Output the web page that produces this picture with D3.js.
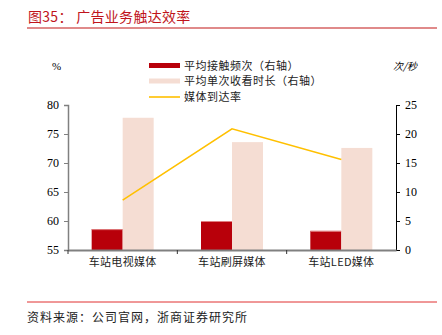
<!DOCTYPE html>
<html><head><meta charset="utf-8">
<script src="https://cdn.jsdelivr.net/npm/d3@7"></script>
<style>
html,body{margin:0;padding:0;background:#fff;}
svg{display:block;}
</style></head>
<body>
<svg id="c" width="442" height="335"></svg>
<script>
const categories = ["车站电视媒体", "车站刷屏媒体", "车站LED媒体"];
const contactFreq = [3.6, 5.0, 3.3];        // 平均接触频次（右轴）
const viewDuration = [22.8, 18.6, 17.6];     // 平均单次收看时长（右轴）
const reachRate = [63.6, 75.9, 70.6];        // 媒体到达率（左轴, %）
const leftTicks = [55, 60, 65, 70, 75, 80];
const rightTicks = [0, 5, 10, 15, 20, 25];
const seriesNames = ["平均接触频次（右轴）", "平均单次收看时长（右轴）", "媒体到达率"];

const svg = d3.select("#c");
const cjk = "'Noto Sans CJK SC', 'Noto Sans', sans-serif";
const serif = "'Liberation Serif', 'DejaVu Serif', serif";

const L = 68, R = 396, T = 105, B = 250;
const x = d3.scaleBand().domain(categories).range([L, R]).padding(0);
const yL = d3.scaleLinear().domain([55, 80]).range([B, T]);
const yR = d3.scaleLinear().domain([0, 25]).range([B, T]);
const bw = 31;

// title
svg.append("text").attr("x", 28).attr("y", 22).attr("fill", "#C0141B")
  .attr("font-family", cjk).attr("font-size", 14).attr("letter-spacing", 0.3).text("图35：  广告业务触达效率");
svg.append("line").attr("x1", 27).attr("x2", 437).attr("y1", 28).attr("y2", 28)
  .attr("stroke", "#E08A8A").attr("stroke-width", 2);

// bars
const g = svg.append("g");
g.selectAll(".b1").data(categories).enter().append("rect")
  .attr("x", d => x(d) + x.bandwidth()/2 - bw)
  .attr("y", (d,i) => yR(contactFreq[i]))
  .attr("width", bw).attr("height", (d,i) => B - yR(contactFreq[i]))
  .attr("fill", "#B8000A");
g.selectAll(".b1t").data(categories).enter().append("rect")
  .attr("x", d => x(d) + x.bandwidth()/2 - bw)
  .attr("y", (d,i) => yR(contactFreq[i]))
  .attr("width", bw).attr("height", 1)
  .attr("fill", "#E07F80");
g.selectAll(".b2").data(categories).enter().append("rect")
  .attr("x", d => x(d) + x.bandwidth()/2)
  .attr("y", (d,i) => yR(viewDuration[i]))
  .attr("width", bw).attr("height", (d,i) => B - yR(viewDuration[i]))
  .attr("fill", "#F5DDD3");

// line
const line = d3.line().x((d,i) => x(categories[i]) + x.bandwidth()/2).y(d => yL(d));
g.append("path").datum(reachRate).attr("d", line)
  .attr("fill", "none").attr("stroke", "#FFC000").attr("stroke-width", 1.6);

// left axis
const axL = svg.append("g").attr("transform", `translate(${L},0)`)
  .call(d3.axisLeft(yL).tickValues(leftTicks).tickSize(4).tickPadding(5));
axL.select(".domain").attr("stroke", "#808080").attr("stroke-width", 1.5);
axL.selectAll(".tick line").attr("stroke", "#808080");
axL.selectAll("text").attr("font-family", serif).attr("font-size", 12).attr("fill", "#000");

// right axis
const axR = svg.append("g").attr("transform", `translate(${R},0)`)
  .call(d3.axisRight(yR).tickValues(rightTicks).tickSize(4).tickPadding(5));
axR.select(".domain").attr("stroke", "#000").attr("stroke-width", 1);
axR.selectAll(".tick line").attr("stroke", "#000");
axR.selectAll("text").attr("font-family", serif).attr("font-size", 12).attr("fill", "#000");

// bottom axis
const axB = svg.append("g").attr("transform", `translate(0,${B})`)
  .call(d3.axisBottom(x).tickSize(0).tickPadding(8));
axB.select(".domain").attr("stroke", "#808080").attr("stroke-width", 2);
axB.selectAll("text").attr("font-family", cjk).attr("font-size", 11).attr("fill", "#222").attr("letter-spacing", 0.3);
svg.append("g").selectAll("line").data(categories).enter().append("line")
  .attr("x1", d => x(d)).attr("x2", d => x(d)).attr("y1", B).attr("y2", B + 4)
  .attr("stroke", "#333");

// axis unit labels
svg.append("text").attr("x", 52).attr("y", 70).attr("font-family", serif).attr("font-size", 11).text("%");
svg.append("text").attr("x", 393).attr("y", 70).attr("font-family", cjk).attr("font-size", 10)
  .attr("font-style", "italic").text("次/秒");

// legend
const lg = svg.append("g");
const ly = [65.5, 81, 97];
lg.append("rect").attr("x", 149).attr("y", ly[0]-2.5).attr("width", 31).attr("height", 5).attr("fill", "#B8000A");
lg.append("rect").attr("x", 149).attr("y", ly[1]-2.5).attr("width", 31).attr("height", 5).attr("fill", "#F5DDD3");
lg.append("line").attr("x1", 149).attr("x2", 180).attr("y1", ly[2]).attr("y2", ly[2]).attr("stroke", "#FFC000").attr("stroke-width", 1.6);
lg.selectAll("text").data(seriesNames).enter().append("text")
  .attr("x", 184).attr("y", (d,i) => ly[i] + 4)
  .attr("font-family", cjk).attr("font-size", 11).attr("letter-spacing", 0.5).attr("fill", "#222").text(d => d);

// footer
svg.append("line").attr("x1", 27).attr("x2", 437).attr("y1", 302).attr("y2", 302)
  .attr("stroke", "#E03030").attr("stroke-width", 1);
svg.append("text").attr("x", 27).attr("y", 322).attr("font-family", cjk).attr("font-size", 12)
  .attr("letter-spacing", 1).attr("fill", "#222").text("资料来源：公司官网，浙商证券研究所");
</script>
</body></html>
